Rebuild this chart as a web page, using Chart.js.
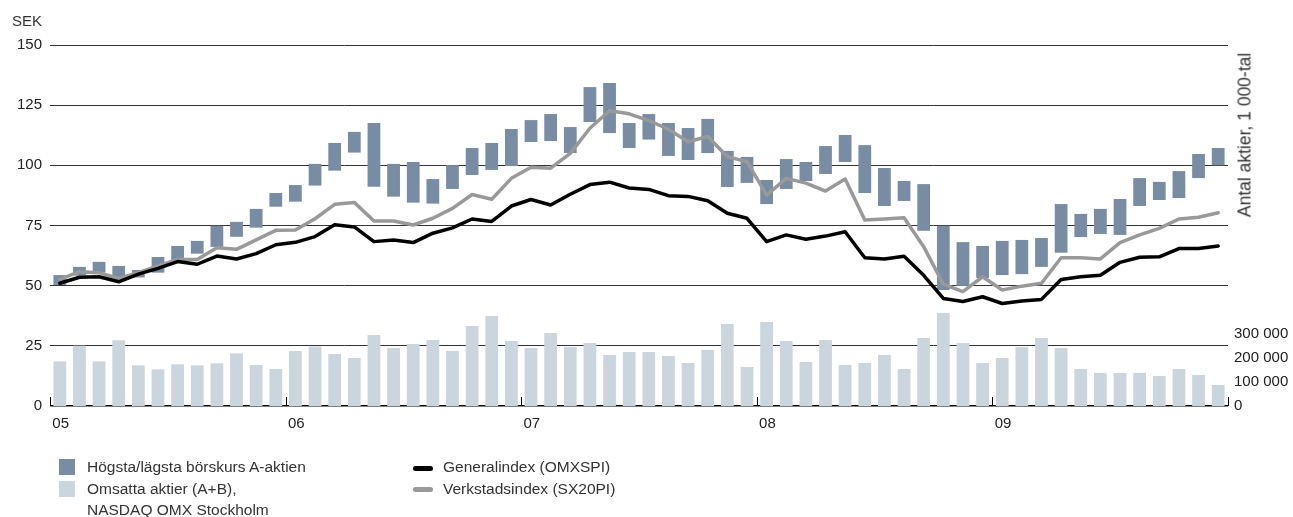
<!DOCTYPE html>
<html lang="sv">
<head>
<meta charset="utf-8">
<title>Aktiekurs och omsättning 2005-2009</title>
<script src="https://cdn.jsdelivr.net/npm/chart.js@4.4.1/dist/chart.umd.min.js"></script>
<style>
  body { margin: 0; background: #fff; font-family: "Liberation Sans", Arial, sans-serif; color: #333; }
  .wrap { position: relative; width: 1293px; height: 517px; }
  #grafico { position: absolute; left: 0; top: 0; }
  .sek { position: absolute; left: 0; top: 12px; width: 42px; text-align: right; font-size: 15px; }
  .titulo-der { position: absolute; left: 1245px; top: 135px; font-size: 17.5px; white-space: nowrap;
    transform: translate(-50%, -50%) rotate(-90deg); }
  .leyenda { position: absolute; font-size: 15.5px; line-height: 21.5px; }
  .caja { position: absolute; width: 16px; height: 16px; }
  .raya { position: absolute; width: 20px; height: 5px; border-radius: 3px; }
</style>
</head>
<body>
<div class="wrap">
  <canvas id="grafico" width="1293" height="517"></canvas>
  <div class="sek">SEK</div>
  <div class="titulo-der">Antal aktier, 1 000-tal</div>

  <div class="caja" style="left:59px; top:459px; background:#788ca3;"></div>
  <div class="caja" style="left:59px; top:481px; background:#cbd5de;"></div>
  <div class="leyenda" style="left:87px; top:456px;">Högsta/lägsta börskurs A-aktien<br>Omsatta aktier (A+B),<br>NASDAQ OMX Stockholm</div>

  <div class="raya" style="left:413px; top:466px; background:#000;"></div>
  <div class="raya" style="left:413px; top:487px; background:#999;"></div>
  <div class="leyenda" style="left:443px; top:456px;">Generalindex (OMXSPI)<br>Verkstadsindex (SX20PI)</div>
</div>

<script>
/* DATOS */
const years = ['05', '06', '07', '08', '09'];
const months = ['jan', 'feb', 'mar', 'apr', 'maj', 'jun', 'jul', 'aug', 'sep', 'okt', 'nov', 'dec'];
const categories = years.flatMap(y => months.map(m => m + ' ' + y));
const yearLabels = years;

// högsta / lägsta kurs A-aktien, SEK
const highs = [54.4, 57.8, 59.9, 58.2, 56.5, 61.9, 66.5, 68.6, 74.9, 76.5,
  81.9, 88.5, 91.8, 100.6, 109.3, 113.9, 117.6, 100.6, 101.4, 94.3,
  100.1, 107.2, 109.3, 115.1, 118.8, 121.3, 115.9, 132.5, 134.2, 117.6,
  121.3, 117.6, 115.5, 119.3, 106.0, 103.5, 93.9, 102.6, 101.4, 108.0,
  112.6, 108.4, 98.9, 93.5, 92.2, 74.9, 68.1, 66.5, 68.6, 69.0,
  69.8, 83.9, 79.8, 81.9, 86.0, 94.7, 93.1, 97.6, 104.7, 107.2];
const lows = [50.3, 54.2, 55.5, 53.1, 53.4, 55.4, 60.0, 63.3, 66.1, 70.3,
  74.1, 82.8, 84.9, 91.6, 97.8, 105.3, 91.1, 87.0, 84.5, 84.1,
  90.2, 96.0, 98.1, 99.7, 109.7, 110.1, 105.1, 118.0, 113.4, 107.2,
  110.7, 103.9, 102.2, 105.1, 91.0, 92.7, 83.9, 90.2, 93.5, 96.4,
  101.4, 88.5, 83.1, 85.2, 72.8, 48.2, 49.9, 53.2, 54.4, 54.8,
  57.8, 63.7, 70.2, 71.5, 71.1, 83.1, 85.6, 86.4, 94.7, 100.0];

const generalindex = [51.0, 53.5, 53.7, 51.6, 54.8, 57.2, 60.0, 58.9, 62.3, 61.1,
  63.3, 67.0, 68.0, 70.4, 75.3, 74.4, 68.3, 69.0, 67.9, 71.8,
  74.0, 77.7, 76.7, 83.1, 85.8, 83.5, 88.0, 92.0, 93.0, 90.6,
  90.0, 87.4, 87.1, 85.3, 80.1, 78.0, 68.3, 71.1, 69.3, 70.6,
  72.4, 61.6, 61.1, 62.2, 54.3, 44.7, 43.4, 45.4, 42.6, 43.6,
  44.3, 52.6, 53.7, 54.3, 59.7, 61.8, 62.0, 65.4, 65.4, 66.5];
const verkstadsindex = [52.6, 55.8, 55.4, 53.0, 55.4, 58.2, 60.9, 60.9, 65.8, 65.1,
  69.0, 73.0, 73.1, 77.8, 83.8, 84.6, 76.9, 76.9, 75.2, 78.0,
  82.1, 87.9, 85.9, 94.6, 99.2, 98.8, 105.0, 115.4, 122.7, 121.4,
  118.6, 115.0, 109.8, 112.0, 103.6, 101.5, 87.6, 94.6, 92.6, 89.3,
  94.3, 77.3, 77.7, 78.2, 66.2, 50.6, 47.5, 53.7, 48.2, 49.8,
  51.0, 61.6, 61.6, 61.1, 67.9, 71.1, 73.8, 77.7, 78.4, 80.3];

// omsatta aktier (A+B), antal
const volume = [185600, 250700, 185600, 272800, 169000, 152400, 173100, 169000, 177300, 218800,
  170400, 153700, 228500, 247000, 216100, 199400, 295000, 241000, 257600, 274200,
  228500, 332400, 374000, 270100, 241000, 303300, 245100, 261800, 211900, 224400,
  224400, 207800, 178700, 232700, 340700, 162000, 349000, 270100, 182800, 274200,
  170400, 178700, 211900, 153700, 282500, 386400, 261800, 178700, 199400, 245100,
  282500, 241000, 153700, 137100, 137100, 137100, 124700, 153700, 128800, 87300];

const leftTicks = [0, 25, 50, 75, 100, 125, 150];
const rightTicks = [0, 100000, 200000, 300000];

const fuente = { family: '"Liberation Sans", Arial, sans-serif', size: 15 };

// marcas de año sobre la línea base
const marcasAnio = {
  id: 'marcasAnio',
  afterDatasetsDraw(chart) {
    const x = chart.scales.x;
    const bottom = chart.chartArea.bottom;
    const paso = x.getPixelForValue(1) - x.getPixelForValue(0);
    const c = chart.ctx;
    c.save();
    c.strokeStyle = '#000';
    c.lineWidth = 1;
    for (let i = 0; i <= categories.length; i += 12) {
      const px = Math.round(x.getPixelForValue(i) - paso / 2) + 0.5;
      c.beginPath();
      c.moveTo(px, bottom - 9);
      c.lineTo(px, bottom);
      c.stroke();
    }
    c.restore();
  }
};

const ctx = document.getElementById('grafico').getContext('2d');

const miGrafico = new Chart(ctx, {
  type: 'bar',
  data: {
    labels: categories,
    datasets: [
      {
        type: 'line',
        label: 'Generalindex (OMXSPI)',
        data: generalindex,
        yAxisID: 'y',
        borderColor: '#000',
        borderWidth: 3.5,
        pointRadius: 0,
        tension: 0,
        borderJoinStyle: 'round',
        borderCapStyle: 'round',
        order: 1
      },
      {
        type: 'line',
        label: 'Verkstadsindex (SX20PI)',
        data: verkstadsindex,
        yAxisID: 'y',
        borderColor: '#999',
        borderWidth: 3.5,
        pointRadius: 0,
        tension: 0,
        borderJoinStyle: 'round',
        borderCapStyle: 'round',
        order: 2
      },
      {
        label: 'Högsta/lägsta börskurs A-aktien',
        data: highs.map((h, i) => [lows[i], h]),
        yAxisID: 'y',
        backgroundColor: '#788ca3',
        borderWidth: 0,
        borderSkipped: false,
        grouped: false,
        barPercentage: 0.65,
        categoryPercentage: 1,
        order: 3
      },
      {
        label: 'Omsatta aktier (A+B)',
        data: volume,
        yAxisID: 'y2',
        backgroundColor: '#cbd5de',
        borderWidth: 0,
        grouped: false,
        barPercentage: 0.65,
        categoryPercentage: 1,
        order: 4
      }
    ]
  },
  options: {
    responsive: false,
    animation: false,
    layout: { padding: { top: 45, bottom: 0, left: 0, right: 0 } },
    plugins: {
      legend: { display: false },
      tooltip: { enabled: false }
    },
    scales: {
      x: {
        offset: true,
        grid: { display: false, drawTicks: false },
        border: { display: false },
        ticks: {
          autoSkip: false,
          maxRotation: 0,
          align: 'start',
          labelOffset: -7.5,
          padding: 9,
          color: '#222',
          font: fuente,
          callback: (v, i) => (i % 12 === 0 ? yearLabels[i / 12] : '')
        },
        afterFit: (s) => { s.height = 111; }
      },
      y: {
        position: 'left',
        min: 0,
        max: 150,
        afterBuildTicks: (s) => { s.ticks = leftTicks.map(v => ({ value: v })); },
        grid: {
          drawTicks: false,
          color: (c) => (c.tick && c.tick.value === 0 ? '#000' : '#333'),
          lineWidth: (c) => (c.tick && c.tick.value === 0 ? 1.5 : 1)
        },
        border: { display: false },
        ticks: { padding: 8, color: '#222', font: fuente },
        afterFit: (s) => { s.width = 50; }
      },
      y2: {
        position: 'right',
        min: 0,
        max: 1500000,
        afterBuildTicks: (s) => { s.ticks = rightTicks.map(v => ({ value: v })); },
        grid: { display: false, drawTicks: false },
        border: { display: false },
        ticks: {
          padding: 6,
          color: '#222',
          font: fuente,
          callback: (v) => String(v).replace(/\B(?=(\d{3})+(?!\d))/g, ' ')
        },
        afterFit: (s) => { s.width = 65; }
      }
    }
  },
  plugins: [marcasAnio]
});
</script>
</body>
</html>
